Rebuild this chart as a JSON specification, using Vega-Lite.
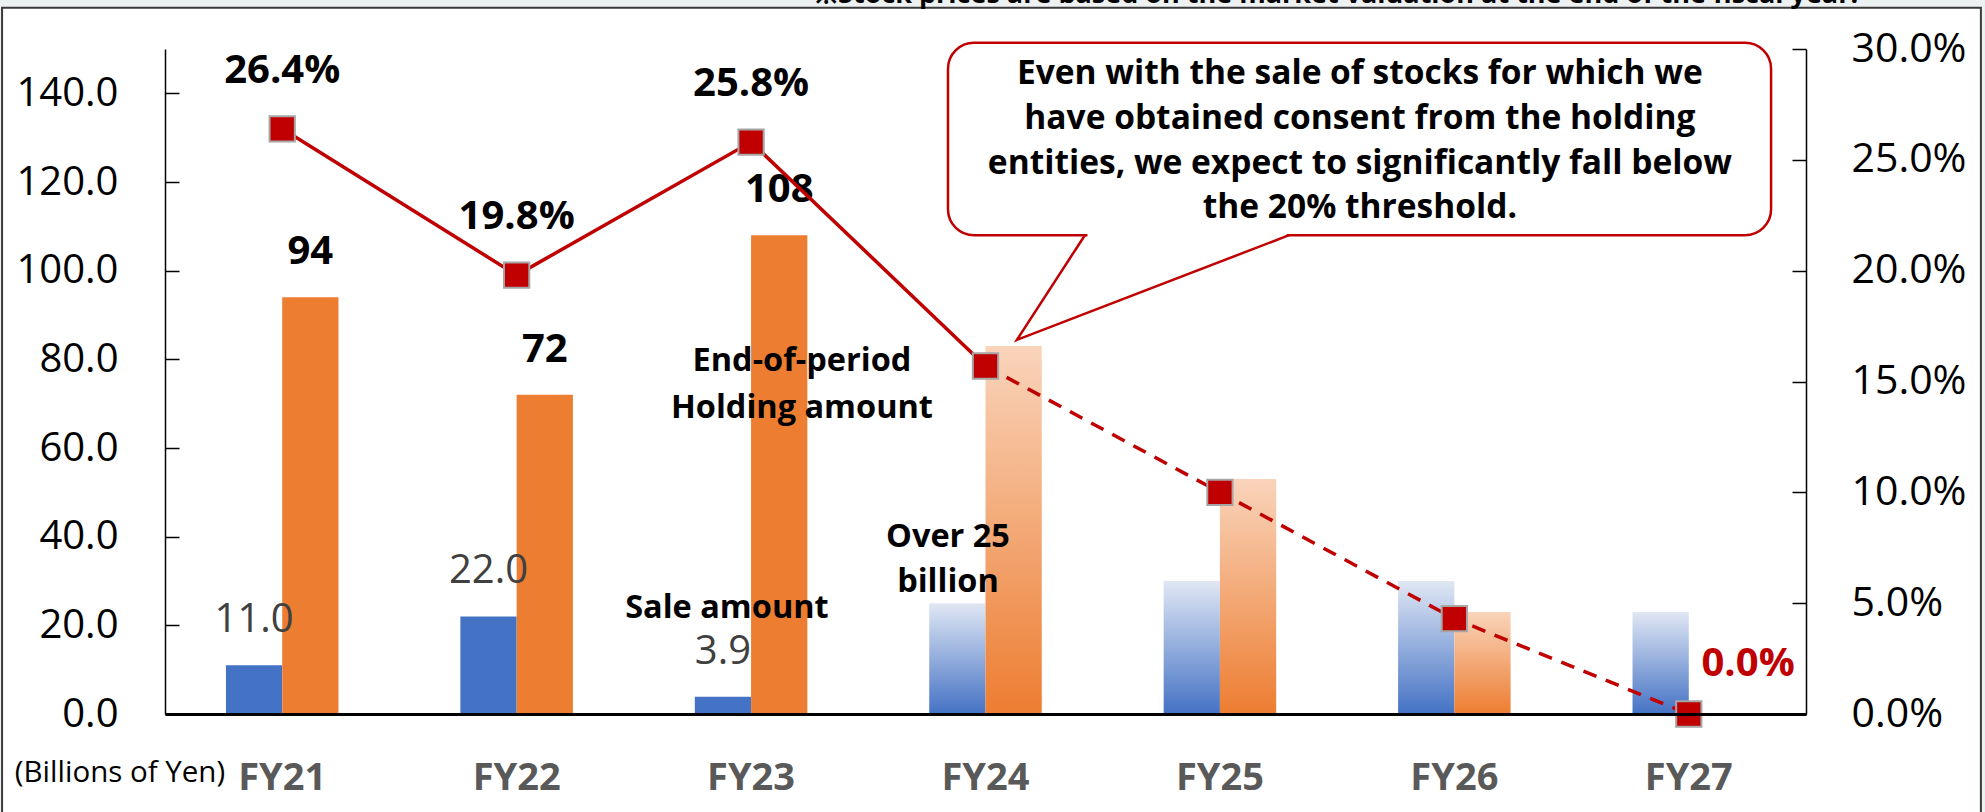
{
  "$schema": "https://vega.github.io/schema/vega-lite/v6.json",
  "width": 1641,
  "height": 665,
  "autosize": {"type": "none"},
  "padding": {"left": 165, "top": 49, "right": 179, "bottom": 98},
  "background": "#eef1f2",
  "config": {"font": "Open Sans", "view": {"stroke": null}},
  "datasets": {
    "bars": [
      {"fy": "FY21", "series": "Sale", "kind": "actual", "value": 11.0},
      {"fy": "FY21", "series": "Holding", "kind": "actual", "value": 94},
      {"fy": "FY22", "series": "Sale", "kind": "actual", "value": 22.0},
      {"fy": "FY22", "series": "Holding", "kind": "actual", "value": 72},
      {"fy": "FY23", "series": "Sale", "kind": "actual", "value": 3.9},
      {"fy": "FY23", "series": "Holding", "kind": "actual", "value": 108},
      {"fy": "FY24", "series": "Sale", "kind": "plan", "value": 25},
      {"fy": "FY24", "series": "Holding", "kind": "plan", "value": 83},
      {"fy": "FY25", "series": "Sale", "kind": "plan", "value": 30},
      {"fy": "FY25", "series": "Holding", "kind": "plan", "value": 53},
      {"fy": "FY26", "series": "Sale", "kind": "plan", "value": 30},
      {"fy": "FY26", "series": "Holding", "kind": "plan", "value": 23},
      {"fy": "FY27", "series": "Sale", "kind": "plan", "value": 23},
      {"fy": "FY27", "series": "Holding", "kind": "plan", "value": 0}
    ],
    "ratio": [
      {"fy": "FY21", "ratio": 0.264},
      {"fy": "FY22", "ratio": 0.198},
      {"fy": "FY23", "ratio": 0.258},
      {"fy": "FY24", "ratio": 0.157},
      {"fy": "FY25", "ratio": 0.100},
      {"fy": "FY26", "ratio": 0.043},
      {"fy": "FY27", "ratio": 0.0}
    ],
    "frame": [{"x1": -0.695, "x2": 7.746, "y1": 159.3, "y2": -30}],
    "callout": [{"x1": 3.340, "x2": 6.851, "y1": 151.4, "y2": 108.0}],
    "tailGap": [{"x1": 3.935, "x2": 4.785, "y": 108.0}],
    "tail": [
      {"o": 1, "x": 3.924, "y": 108.0},
      {"o": 2, "x": 3.634, "y": 84.4},
      {"o": 3, "x": 4.795, "y": 108.0}
    ],
    "calloutText": [
      {"text": "Even with the sale of stocks for which we", "x": 5.097, "y": 144.4},
      {"text": "have obtained consent from the holding", "x": 5.097, "y": 134.2},
      {"text": "entities, we expect to significantly fall below", "x": 5.097, "y": 124.1},
      {"text": "the 20% threshold.", "x": 5.097, "y": 114.1}
    ],
    "labelsBold": [
      {"text": "End-of-period", "x": 2.717, "y": 79.6},
      {"text": "Holding amount", "x": 2.717, "y": 69.0},
      {"text": "Sale amount", "x": 2.397, "y": 23.9},
      {"text": "Over 25", "x": 3.340, "y": 39.9},
      {"text": "billion", "x": 3.340, "y": 29.8}
    ],
    "unit": [{"text": "(Billions of Yen)", "x": -0.192, "y": -13.3}],
    "zero": [{"text": "0.0%", "x": 6.753, "y": 11.3}],
    "note": [{"text": "※Stock prices are based on the market valuation at the end of the fiscal year.", "x": 2.773, "y": 160.4}]
  },
  "layer": [
    {
      "data": {"name": "frame"},
      "mark": {"type": "rect", "fill": "#ffffff", "stroke": "#3a3a3a", "strokeWidth": 2},
      "encoding": {
        "x": {"field": "x1", "type": "quantitative", "scale": {"domain": [0, 7], "nice": false, "zero": false}, "axis": null},
        "x2": {"field": "x2"},
        "y": {"field": "y1", "type": "quantitative", "scale": {"domain": [0, 150], "nice": false, "zero": false}, "axis": null},
        "y2": {"field": "y2"}
      }
    },
    {
      "layer": [
        {
          "data": {"name": "bars"},
          "layer": [
            {
              "transform": [{"filter": "datum.kind === 'actual'"}],
              "mark": {"type": "bar"},
              "encoding": {
                "x": {
                  "field": "fy", "type": "nominal",
                  "scale": {"domain": ["FY21", "FY22", "FY23", "FY24", "FY25", "FY26", "FY27"], "paddingInner": 0.52, "paddingOuter": 0.26},
                  "axis": {
                    "title": null, "labelAngle": 0, "ticks": false, "zindex": 1,
                    "domainColor": "#000000", "domainWidth": 3,
                    "labelFont": "Open Sans", "labelFontSize": 38, "labelFontWeight": "bold",
                    "labelColor": "#595959", "labelBaseline": "middle", "labelPadding": 64
                  }
                },
                "xOffset": {"field": "series", "type": "nominal", "scale": {"domain": ["Sale", "Holding"]}},
                "y": {
                  "field": "value", "type": "quantitative",
                  "scale": {"domain": [0, 150], "nice": false, "zero": true},
                  "axis": {
                    "orient": "left", "title": null, "format": ".1f", "zindex": 1,
                    "values": [0, 20, 40, 60, 80, 100, 120, 140],
                    "grid": false, "domainColor": "#000000", "domainWidth": 1.5,
                    "tickColor": "#000000", "tickWidth": 1.5, "tickSize": -14,
                    "labelFont": "Open Sans", "labelFontSize": 40, "labelColor": "#000000", "labelPadding": 61
                  }
                },
                "color": {"field": "series", "type": "nominal", "scale": {"domain": ["Sale", "Holding"], "range": ["#4472c4", "#ed7d31"]}, "legend": null}
              }
            },
            {
              "transform": [{"filter": "datum.kind === 'plan' && datum.series === 'Sale'"}],
              "mark": {
                "type": "bar",
                "color": {"gradient": "linear", "x1": 0, "y1": 0, "x2": 0, "y2": 1,
                  "stops": [{"offset": 0, "color": "#e0e7f4"}, {"offset": 1, "color": "#4472c4"}]}
              },
              "encoding": {
                "x": {"field": "fy", "type": "nominal", "scale": {"domain": ["FY21", "FY22", "FY23", "FY24", "FY25", "FY26", "FY27"]}},
                "xOffset": {"field": "series", "type": "nominal", "scale": {"domain": ["Sale", "Holding"]}},
                "y": {"field": "value", "type": "quantitative", "scale": {"domain": [0, 150]}}
              }
            },
            {
              "transform": [{"filter": "datum.kind === 'plan' && datum.series === 'Holding' && datum.value > 0"}],
              "mark": {
                "type": "bar",
                "color": {"gradient": "linear", "x1": 0, "y1": 0, "x2": 0, "y2": 1,
                  "stops": [{"offset": 0, "color": "#f9d4bb"}, {"offset": 1, "color": "#ed7d31"}]}
              },
              "encoding": {
                "x": {"field": "fy", "type": "nominal", "scale": {"domain": ["FY21", "FY22", "FY23", "FY24", "FY25", "FY26", "FY27"]}},
                "xOffset": {"field": "series", "type": "nominal", "scale": {"domain": ["Sale", "Holding"]}},
                "y": {"field": "value", "type": "quantitative", "scale": {"domain": [0, 150]}}
              }
            },
            {
              "transform": [{"filter": "datum.kind === 'actual' && datum.series === 'Sale'"}],
              "mark": {"type": "text", "font": "Open Sans", "fontSize": 40, "color": "#404040", "baseline": "middle", "dy": -45},
              "encoding": {
                "x": {"field": "fy", "type": "nominal", "scale": {"domain": ["FY21", "FY22", "FY23", "FY24", "FY25", "FY26", "FY27"]}},
                "xOffset": {"field": "series", "type": "nominal", "scale": {"domain": ["Sale", "Holding"]}},
                "y": {"field": "value", "type": "quantitative", "scale": {"domain": [0, 150]}},
                "text": {"field": "value", "type": "quantitative", "format": ".1f"}
              }
            },
            {
              "transform": [{"filter": "datum.kind === 'actual' && datum.series === 'Holding'"}],
              "mark": {"type": "text", "font": "Open Sans", "fontSize": 40, "fontWeight": "bold", "color": "#000000", "baseline": "middle", "dy": -45},
              "encoding": {
                "x": {"field": "fy", "type": "nominal", "scale": {"domain": ["FY21", "FY22", "FY23", "FY24", "FY25", "FY26", "FY27"]}},
                "xOffset": {"field": "series", "type": "nominal", "scale": {"domain": ["Sale", "Holding"]}},
                "y": {"field": "value", "type": "quantitative", "scale": {"domain": [0, 150]}},
                "text": {"field": "value", "type": "quantitative", "format": "d"}
              }
            }
          ]
        },
        {
          "data": {"name": "ratio"},
          "layer": [
            {
              "transform": [{"filter": {"field": "fy", "oneOf": ["FY21", "FY22", "FY23", "FY24"]}}],
              "mark": {"type": "line", "color": "#c00000", "strokeWidth": 3.5},
              "encoding": {
                "x": {"field": "fy", "type": "nominal", "scale": {"domain": ["FY21", "FY22", "FY23", "FY24", "FY25", "FY26", "FY27"]}},
                "y": {
                  "field": "ratio", "type": "quantitative",
                  "scale": {"domain": [0, 0.3], "nice": false},
                  "axis": {
                    "orient": "right", "title": null, "format": ".1%", "zindex": 1,
                    "values": [0, 0.05, 0.1, 0.15, 0.2, 0.25, 0.3],
                    "grid": false, "domainColor": "#000000", "domainWidth": 1.5,
                    "tickColor": "#000000", "tickWidth": 1.5, "tickSize": -14,
                    "labelFont": "Open Sans", "labelFontSize": 41, "labelColor": "#000000", "labelPadding": 59
                  }
                }
              }
            },
            {
              "transform": [{"filter": {"field": "fy", "oneOf": ["FY24", "FY25", "FY26", "FY27"]}}],
              "mark": {"type": "line", "color": "#c00000", "strokeWidth": 3.5, "strokeDash": [14, 10]},
              "encoding": {
                "x": {"field": "fy", "type": "nominal", "scale": {"domain": ["FY21", "FY22", "FY23", "FY24", "FY25", "FY26", "FY27"]}},
                "y": {"field": "ratio", "type": "quantitative", "scale": {"domain": [0, 0.3]}}
              }
            },
            {
              "mark": {"type": "point", "shape": "square", "filled": true, "size": 640, "fill": "#c00000", "stroke": "#a6a6a6", "strokeWidth": 2, "opacity": 1},
              "encoding": {
                "x": {"field": "fy", "type": "nominal", "scale": {"domain": ["FY21", "FY22", "FY23", "FY24", "FY25", "FY26", "FY27"]}},
                "y": {"field": "ratio", "type": "quantitative", "scale": {"domain": [0, 0.3]}}
              }
            },
            {
              "transform": [{"filter": {"field": "fy", "oneOf": ["FY21", "FY22", "FY23"]}}],
              "mark": {"type": "text", "font": "Open Sans", "fontSize": 40, "fontWeight": "bold", "color": "#000000", "baseline": "middle", "dy": -58},
              "encoding": {
                "x": {"field": "fy", "type": "nominal", "scale": {"domain": ["FY21", "FY22", "FY23", "FY24", "FY25", "FY26", "FY27"]}},
                "y": {"field": "ratio", "type": "quantitative", "scale": {"domain": [0, 0.3]}},
                "text": {"field": "ratio", "type": "quantitative", "format": ".1%"}
              }
            }
          ]
        }
      ],
      "resolve": {"scale": {"y": "independent"}}
    },
    {
      "layer": [
        {
          "data": {"name": "callout"},
          "mark": {"type": "rect", "fill": "#ffffff", "stroke": "#c00000", "strokeWidth": 2.5, "cornerRadius": 26},
          "encoding": {
            "x": {"field": "x1", "type": "quantitative", "scale": {"domain": [0, 7], "nice": false, "zero": false}, "axis": null},
            "x2": {"field": "x2"},
            "y": {"field": "y1", "type": "quantitative", "scale": {"domain": [0, 150], "nice": false, "zero": false}, "axis": null},
            "y2": {"field": "y2"}
          }
        },
        {
          "data": {"name": "tailGap"},
          "mark": {"type": "rule", "color": "#ffffff", "strokeWidth": 5},
          "encoding": {
            "x": {"field": "x1", "type": "quantitative", "scale": {"domain": [0, 7], "nice": false, "zero": false}, "axis": null},
            "x2": {"field": "x2"},
            "y": {"field": "y", "type": "quantitative", "scale": {"domain": [0, 150], "nice": false, "zero": false}, "axis": null}
          }
        },
        {
          "data": {"name": "tail"},
          "mark": {"type": "line", "color": "#c00000", "strokeWidth": 2.5, "strokeJoin": "miter"},
          "encoding": {
            "x": {"field": "x", "type": "quantitative", "scale": {"domain": [0, 7], "nice": false, "zero": false}, "axis": null},
            "y": {"field": "y", "type": "quantitative", "scale": {"domain": [0, 150], "nice": false, "zero": false}, "axis": null},
            "order": {"field": "o", "type": "quantitative"}
          }
        },
        {
          "data": {"name": "calloutText"},
          "mark": {"type": "text", "font": "Open Sans", "fontSize": 33.5, "fontWeight": "bold", "color": "#000000", "align": "center", "baseline": "middle"},
          "encoding": {
            "x": {"field": "x", "type": "quantitative", "scale": {"domain": [0, 7], "nice": false, "zero": false}, "axis": null},
            "y": {"field": "y", "type": "quantitative", "scale": {"domain": [0, 150], "nice": false, "zero": false}, "axis": null},
            "text": {"field": "text", "type": "nominal"}
          }
        },
        {
          "data": {"name": "labelsBold"},
          "mark": {"type": "text", "font": "Open Sans", "fontSize": 32.5, "fontWeight": "bold", "color": "#000000", "align": "center", "baseline": "middle"},
          "encoding": {
            "x": {"field": "x", "type": "quantitative", "scale": {"domain": [0, 7], "nice": false, "zero": false}, "axis": null},
            "y": {"field": "y", "type": "quantitative", "scale": {"domain": [0, 150], "nice": false, "zero": false}, "axis": null},
            "text": {"field": "text", "type": "nominal"}
          }
        },
        {
          "data": {"name": "unit"},
          "mark": {"type": "text", "font": "Open Sans", "fontSize": 29.5, "color": "#000000", "align": "center", "baseline": "middle"},
          "encoding": {
            "x": {"field": "x", "type": "quantitative", "scale": {"domain": [0, 7], "nice": false, "zero": false}, "axis": null},
            "y": {"field": "y", "type": "quantitative", "scale": {"domain": [0, 150], "nice": false, "zero": false}, "axis": null},
            "text": {"field": "text", "type": "nominal"}
          }
        },
        {
          "data": {"name": "zero"},
          "mark": {"type": "text", "font": "Open Sans", "fontSize": 40, "fontWeight": "bold", "color": "#c00000", "align": "center", "baseline": "middle"},
          "encoding": {
            "x": {"field": "x", "type": "quantitative", "scale": {"domain": [0, 7], "nice": false, "zero": false}, "axis": null},
            "y": {"field": "y", "type": "quantitative", "scale": {"domain": [0, 150], "nice": false, "zero": false}, "axis": null},
            "text": {"field": "text", "type": "nominal"}
          }
        },
        {
          "data": {"name": "note"},
          "mark": {"type": "text", "font": "Open Sans", "fontSize": 27, "fontWeight": "bold", "color": "#000000", "align": "left", "baseline": "alphabetic"},
          "encoding": {
            "x": {"field": "x", "type": "quantitative", "scale": {"domain": [0, 7], "nice": false, "zero": false}, "axis": null},
            "y": {"field": "y", "type": "quantitative", "scale": {"domain": [0, 150], "nice": false, "zero": false}, "axis": null},
            "text": {"field": "text", "type": "nominal"}
          }
        }
      ]
    }
  ],
  "resolve": {"scale": {"x": "independent", "y": "independent"}}
}
